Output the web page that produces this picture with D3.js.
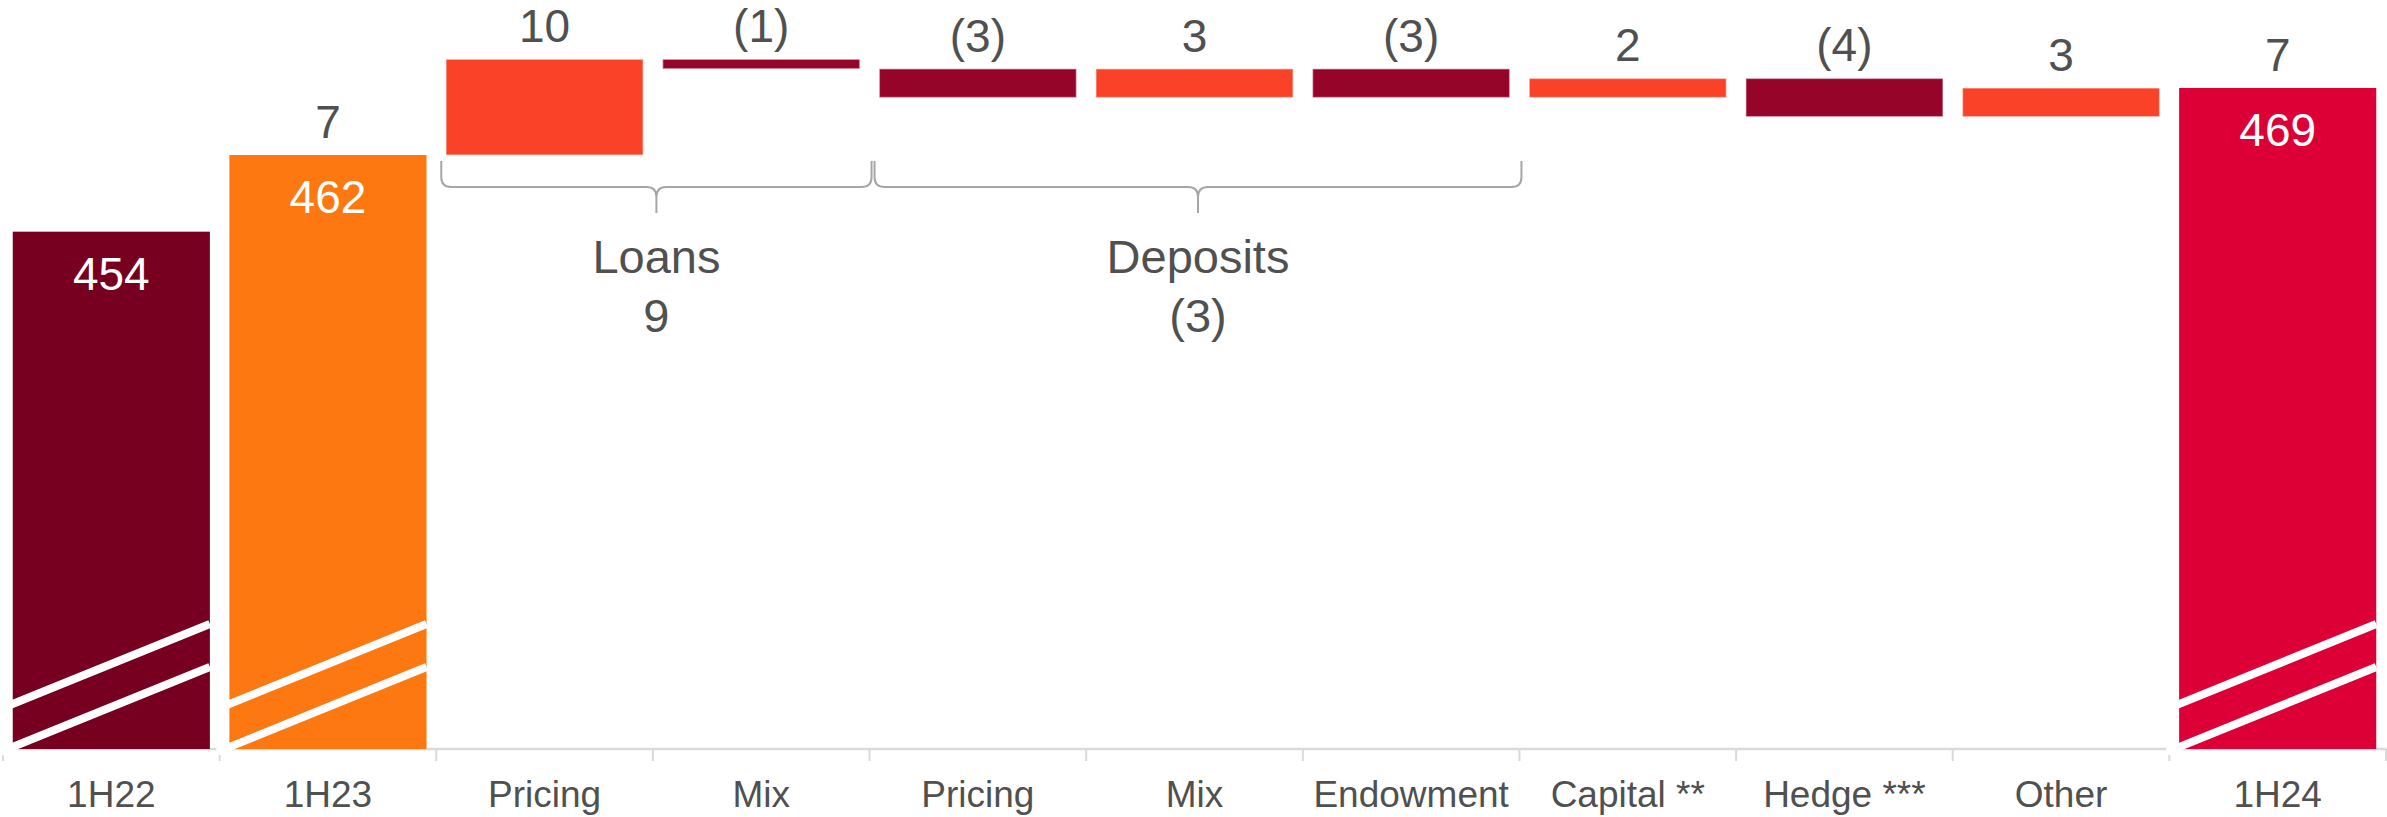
<!DOCTYPE html>
<html>
<head>
<meta charset="utf-8">
<script src="https://cdn.jsdelivr.net/npm/d3@7"></script>
<style>
  html, body { margin: 0; padding: 0; background: #ffffff; }
  svg { display: block; font-family: "Liberation Sans", Arial, sans-serif; }
</style>
</head>
<body>
<svg id="chart" width="2387" height="817"></svg>
<script>
// Net interest income bridge, 1H22 -> 1H23 -> 1H24
const categories = ["1H22", "1H23", "Pricing", "Mix", "Pricing", "Mix", "Endowment", "Capital **", "Hedge ***", "Other", "1H24"];
const kinds      = ["total", "total", "delta", "delta", "delta", "delta", "delta", "delta", "delta", "delta", "total"];
const totalValues  = [454, 462, 469];          // 1H22, 1H23, 1H24
const totalChanges = [null, 7, 7];             // change shown above each total bar
const deltaValues  = [10, -1, -3, 3, -3, 2, -4, 3];
const groupNames   = ["Loans", "Deposits"];
const groupStart   = [2, 4];                   // first category index of each group
const groupEnd     = [3, 6];                   // last category index of each group

const W = 2387, H = 817;
const svg = d3.select("#chart");

const colors = {
  first: "#770020",
  second: "#FD7811",
  last: "#DD0036",
  up: "#F94228",
  down: "#96042A",
  text: "#505050",
  axis: "#DADADA",
  brace: "#A6A6A6"
};

// Build bar records: totals start at the baseline, deltas float on the running total
const bars = [];
let ti = 0, di = 0, running = 0;
categories.forEach((c, i) => {
  if (kinds[i] === "total") {
    const v = totalValues[ti];
    bars.push({ i, label: c, kind: "total", lo: null, hi: v, value: v, change: totalChanges[ti], ti });
    running = v;
    ti++;
  } else {
    const d = deltaValues[di];
    const start = running, end = running + d;
    bars.push({ i, label: c, kind: "delta", lo: Math.min(start, end), hi: Math.max(start, end), value: d });
    running = end;
    di++;
  }
});

const x = d3.scaleBand()
  .domain(categories.map((c, i) => i))
  .range([3, 2386])
  .paddingInner(0.09)
  .paddingOuter(0.045);

const yBase = 400;
const y = d3.scaleLinear().domain([yBase, 480]).range([749, 749 - 80 * 9.58]);

const fmt = v => v < 0 ? `(${Math.abs(v)})` : `${v}`;
const totalColor = t => t === 0 ? colors.first : (t === 1 ? colors.second : colors.last);

// Axis line and ticks at category boundaries
const step = x.step();
const x0 = x.range()[0];
svg.append("line")
  .attr("x1", x0).attr("x2", x.range()[1])
  .attr("y1", y(yBase)).attr("y2", y(yBase))
  .attr("stroke", colors.axis).attr("stroke-width", 2.5);
svg.append("g").selectAll("line")
  .data(d3.range(categories.length + 1))
  .join("line")
  .attr("x1", d => x0 + d * step).attr("x2", d => x0 + d * step)
  .attr("y1", y(yBase)).attr("y2", y(yBase) + 12)
  .attr("stroke", colors.axis).attr("stroke-width", 2);

// Bars
const barG = svg.append("g");
barG.selectAll("rect")
  .data(bars)
  .join("rect")
  .attr("x", d => x(d.i))
  .attr("width", x.bandwidth())
  .attr("y", d => y(d.hi))
  .attr("height", d => d.kind === "total" ? y(yBase) - y(d.hi) : y(d.lo) - y(d.hi))
  .attr("fill", d => d.kind === "total" ? totalColor(d.ti) : (d.value >= 0 ? colors.up : colors.down))
  .attr("stroke", d => d.kind === "total" ? "none" : "rgba(255,255,255,0.45)")
  .attr("stroke-width", 1.5);

// Axis-break stripes on the total bars
const totals = bars.filter(d => d.kind === "total");
const slope = 80 / x.bandwidth();
const stripeG = svg.append("g");
totals.forEach(d => {
  const xl = x(d.i) - 12, xr = x(d.i) + x.bandwidth();
  const base = y(yBase);
  [-82, -125].forEach(off => {
    const yr = base + off;
    const yl = yr + (xr - xl) * slope;
    stripeG.append("line")
      .attr("x1", xl).attr("y1", yl)
      .attr("x2", xr).attr("y2", yr)
      .attr("stroke", "#ffffff").attr("stroke-width", 8);
  });
});

// Value labels inside the total bars
svg.append("g").selectAll("text")
  .data(totals)
  .join("text")
  .attr("x", d => x(d.i) + x.bandwidth() / 2)
  .attr("y", d => y(d.hi) + 58)
  .attr("text-anchor", "middle")
  .attr("font-size", 46)
  .attr("fill", "#ffffff")
  .text(d => d.value);

// Labels above bars: deltas, and period-on-period change for totals
const topLabels = bars.filter(d => d.kind === "delta" || d.change != null);
svg.append("g").selectAll("text")
  .data(topLabels)
  .join("text")
  .attr("x", d => x(d.i) + x.bandwidth() / 2)
  .attr("y", d => y(d.hi) - 17)
  .attr("text-anchor", "middle")
  .attr("font-size", 46)
  .attr("fill", colors.text)
  .text(d => d.kind === "delta" ? fmt(d.value) : fmt(d.change));

// Category labels
svg.append("g").selectAll("text")
  .data(bars)
  .join("text")
  .attr("x", d => x(d.i) + x.bandwidth() / 2)
  .attr("y", 807)
  .attr("text-anchor", "middle")
  .attr("font-size", 37)
  .attr("fill", colors.text)
  .text(d => d.label);

// Group braces with subtotal labels
const braceTop = 161, braceMid = 187, braceTip = 213;
groupNames.forEach((name, g) => {
  const a = x0 + groupStart[g] * step + 5;
  const b = x0 + (groupEnd[g] + 1) * step + 2;
  const cx = (a + b) / 2;
  const r = 10;
  const path = d3.path();
  path.moveTo(a, braceTop);
  path.lineTo(a, braceMid - r);
  path.quadraticCurveTo(a, braceMid, a + r, braceMid);
  path.lineTo(cx - r, braceMid);
  path.quadraticCurveTo(cx, braceMid, cx, braceMid + r);
  path.lineTo(cx, braceTip);
  path.moveTo(cx, braceMid + r);
  path.quadraticCurveTo(cx, braceMid, cx + r, braceMid);
  path.lineTo(b - r, braceMid);
  path.quadraticCurveTo(b, braceMid, b, braceMid - r);
  path.lineTo(b, braceTop);
  svg.append("path")
    .attr("d", path.toString())
    .attr("fill", "none")
    .attr("stroke", colors.brace)
    .attr("stroke-width", 2);

  const sum = d3.sum(bars.filter(d => d.i >= groupStart[g] && d.i <= groupEnd[g]), d => d.value);
  svg.append("text")
    .attr("x", cx).attr("y", 273)
    .attr("text-anchor", "middle")
    .attr("font-size", 47)
    .attr("fill", colors.text)
    .text(name);
  svg.append("text")
    .attr("x", cx).attr("y", 332)
    .attr("text-anchor", "middle")
    .attr("font-size", 47)
    .attr("fill", colors.text)
    .text(fmt(sum));
});
</script>
</body>
</html>
